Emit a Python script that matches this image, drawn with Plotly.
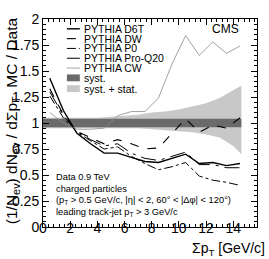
import plotly.graph_objects as go

# bin centres (GeV/c)
sum_pt = [0.5, 1.5, 2.5, 3.5, 4.5, 5.5, 6.5, 7.5, 8.5, 9.5, 10.5, 11.5, 12.5, 13.5, 14.5]

# MC / Data ratios
d6t    = [1.43, 1.12, 0.90, 0.80, 0.71, 0.71, 0.67, 0.63, 0.62, 0.66, 0.70, 0.61, 0.62, 0.59, 0.61]
dw     = [1.33, 1.08, 0.92, 0.86, 0.80, 0.84, 0.80, 0.75, 0.76, 0.90, 1.04, 0.91, 0.98, 0.95, 1.05]
p0     = [1.26, 1.05, 0.91, 0.83, 0.75, 0.77, 0.68, 0.61, 0.55, 0.58, 0.62, 0.49, 0.45, 0.43, 0.40]
proq20 = [1.30, 1.07, 0.92, 0.84, 0.78, 0.80, 0.71, 0.66, 0.64, 0.68, 0.72, 0.60, 0.60, 0.57, 0.57]
cw     = [1.10, 1.00, 0.94, 0.94, 0.95, 1.07, 1.11, 1.11, 1.24, 1.57, 1.84, 1.65, 1.78, 1.67, 1.74]

# uncertainty bands around 1
band_x      = [0.0, 1.0, 2.0, 3.0, 4.0, 5.0, 6.0, 7.0, 8.0, 9.0, 10.0, 11.0, 12.0, 13.0, 14.0, 14.6]
syst_lo     = [0.96] * 16
syst_hi     = [1.04] * 16
tot_lo      = [0.95, 0.95, 0.95, 0.95, 0.95, 0.95, 0.95, 0.95, 0.94, 0.93, 0.92, 0.91, 0.89, 0.86, 0.78, 0.70]
tot_hi      = [1.05, 1.05, 1.05, 1.05, 1.05, 1.06, 1.07, 1.08, 1.10, 1.11, 1.13, 1.16, 1.19, 1.24, 1.31, 1.36]

x_ticks = [0, 2, 4, 6, 8, 10, 12, 14]
y_ticks = [0, 0.25, 0.5, 0.75, 1, 1.25, 1.5, 1.75, 2]
y_tick_text = ["0", "0.25", "0.5", "0.75", "1", "1.25", "1.5", "1.75", "2"]

FONT = "Liberation Sans, Arial, Helvetica, sans-serif"
LIGHT = "#c8c8c8"
DARK = "#6a6a6a"

fig = go.Figure()
fig.add_trace(go.Scatter(x=band_x, y=tot_lo, mode="lines", line=dict(width=0), showlegend=False, hoverinfo="skip"))
fig.add_trace(go.Scatter(x=band_x, y=tot_hi, mode="lines", line=dict(width=0), fill="tonexty",
                         fillcolor=LIGHT, showlegend=False, hoverinfo="skip"))
fig.add_trace(go.Scatter(x=band_x, y=syst_lo, mode="lines", line=dict(width=0), showlegend=False, hoverinfo="skip"))
fig.add_trace(go.Scatter(x=band_x, y=syst_hi, mode="lines", line=dict(width=0), fill="tonexty",
                         fillcolor=DARK, showlegend=False, hoverinfo="skip"))

series = [
    ("PYTHIA D6T", d6t, dict(color="black", width=1.4, dash="solid")),
    ("PYTHIA DW", dw, dict(color="black", width=1.1, dash="dash")),
    ("PYTHIA P0", p0, dict(color="black", width=1.0, dash="dashdot")),
    ("PYTHIA Pro-Q20", proq20, dict(color="black", width=1.0, dash="longdashdot")),
    ("PYTHIA CW", cw, dict(color="#8a8a8a", width=0.8, dash="solid")),
]
for name, ys, ln in series:
    fig.add_trace(go.Scatter(x=sum_pt, y=ys, mode="lines", name=name, line=ln, showlegend=False))

# manual legend (paper coordinates; plot area spans px 43..258 x 15..227)
def px(xp):
    return (xp - 43) / 215.0
def py(yp):
    return (227 - yp) / 212.0

shapes = []
annotations = []
leg_rows = [25, 35, 45, 55, 65, 75, 86]
for i, (name, ys, ln) in enumerate(series):
    yy = py(leg_rows[i])
    shapes.append(dict(type="line", xref="paper", yref="paper", x0=px(67), x1=px(80), y0=yy, y1=yy,
                       line=dict(color=ln["color"], width=ln["width"], dash=ln["dash"])))
    annotations.append(dict(xref="paper", yref="paper", x=px(82), y=yy, text=name, showarrow=False,
                            xanchor="left", yanchor="middle", font=dict(size=10.5, color="black", family=FONT)))
for j, (lab, col) in enumerate([("syst.", DARK), ("syst. + stat.", LIGHT)]):
    yy = leg_rows[5 + j]
    shapes.append(dict(type="rect", xref="paper", yref="paper", x0=px(67), x1=px(80), y0=py(yy + 3.5), y1=py(yy - 3.5),
                       fillcolor=col, line=dict(width=0)))
    annotations.append(dict(xref="paper", yref="paper", x=px(82), y=py(yy), text=lab, showarrow=False,
                            xanchor="left", yanchor="middle", font=dict(size=10.5, color="black", family=FONT)))

annotations.append(dict(xref="paper", yref="paper", x=px(242), y=py(25), text="CMS", showarrow=False,
                        xanchor="right", yanchor="middle", font=dict(size=12, color="black", family=FONT)))

info = ["Data 0.9 TeV", "charged particles",
        "(p<sub>T</sub> > 0.5 GeV/c, |η| < 2, 60° < |Δφ| < 120°)",
        "leading track-jet p<sub>T</sub> > 3 GeV/c"]
for k, t in enumerate(info):
    annotations.append(dict(xref="paper", yref="paper", x=px(54), y=py(176 + 12 * k), text=t, showarrow=False,
                            xanchor="left", yanchor="middle", font=dict(size=9.3, color="black", family=FONT)))

annotations.append(dict(xref="paper", yref="paper", x=px(191), y=py(249), text="Σp<sub>T</sub> [GeV/c]",
                        showarrow=False, xanchor="left", yanchor="middle",
                        font=dict(size=14, color="black", family=FONT)))
annotations.append(dict(xref="paper", yref="paper", x=px(12), y=py(119), textangle=-90,
                        text="(1/N<sub>ev</sub>) dN<sub>ev</sub> / dΣp<sub>T</sub>  MC / Data",
                        showarrow=False, xanchor="center", yanchor="middle",
                        font=dict(size=15.5, color="black", family=FONT)))

axis_common = dict(showline=True, linecolor="black", linewidth=1, mirror="allticks", ticks="inside",
                   ticklen=6, tickcolor="black", tickwidth=1, showgrid=False, zeroline=False,
                   tickfont=dict(size=14, color="black", family=FONT))
fig.update_xaxes(range=[0, 15.75], tickvals=x_ticks, ticklabelstandoff=-12,
                 minor=dict(ticks="inside", ticklen=3, dtick=0.4, tick0=0, tickcolor="black", showgrid=False),
                 **axis_common)
fig.update_yaxes(range=[0, 2], tickvals=y_ticks, ticktext=y_tick_text, ticklabelstandoff=0,
                 minor=dict(ticks="inside", ticklen=3, dtick=0.05, tick0=0, tickcolor="black", showgrid=False),
                 **axis_common)

fig.update_layout(width=269, height=259, margin=dict(l=43, r=11, t=15, b=32),
                  plot_bgcolor="white", paper_bgcolor="white", showlegend=False,
                  shapes=shapes, annotations=annotations, font=dict(family=FONT))
fig.write_html("out.html", config={"displayModeBar": False},
               post_script="document.body.style.margin='0px';document.body.style.padding='0px';")
